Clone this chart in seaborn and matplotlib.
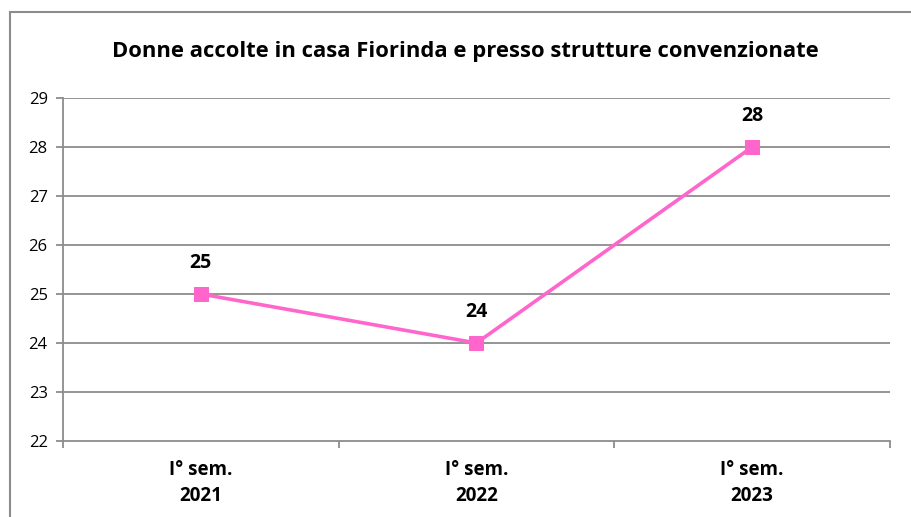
import matplotlib
matplotlib.use("Agg")
import matplotlib.pyplot as plt
from matplotlib.patches import Rectangle
import seaborn as sns
import pandas as pd

categories = ["I° sem.\n2021", "I° sem.\n2022", "I° sem.\n2023"]
values = [25, 24, 28]
y_ticks = [22, 23, 24, 25, 26, 27, 28, 29]
title = "Donne accolte in casa Fiorinda e presso strutture convenzionate"

sns.set_theme(style="white")
plt.rcParams["font.family"] = ["Open Sans", "DejaVu Sans"]

df = pd.DataFrame({"periodo": categories, "donne": values})
df["pos"] = range(len(categories))

fig = plt.figure(figsize=(9.12, 5.17), dpi=100)
ax = fig.add_axes([63 / 912, 1 - 441 / 517, (890 - 63) / 912, (441 - 98) / 517])

grid_col = "#8c8c8c"
for y in y_ticks[1:]:
    ax.axhline(y, color=grid_col, lw=1.3, zorder=0)

pink = "#FF66CC"
sns.lineplot(data=df, x="pos", y="donne", ax=ax, color=pink, lw=2.6,
             marker="s", markersize=10, markeredgecolor=pink, zorder=3)

for x, v in zip(df["pos"], values):
    ax.annotate(str(v), (x, v), xytext=(0, 22.5), textcoords="offset points",
                ha="center", va="center", fontsize=14, fontweight="bold",
                color="black")

ax.set_xlim(-0.5, 2.5)
ax.set_ylim(22, 29)
ax.set_yticks(y_ticks)
ax.set_yticklabels([str(t) for t in y_ticks], fontsize=12, color="black")
ax.set_xticks([0, 1, 2])
ax.set_xticklabels(categories, fontsize=13.5, fontweight="bold", linespacing=1.4,
                   color="black")
ax.set_xticks([-0.5, 0.5, 1.5, 2.5], minor=True)
ax.tick_params(axis="x", which="major", length=0, pad=14)
ax.tick_params(axis="x", which="minor", length=5, width=1.3, color=grid_col, direction="out", bottom=True)
ax.tick_params(axis="y", length=5, width=1.3, color=grid_col, direction="out", left=True, pad=6)
ax.set_xlabel("")
ax.set_ylabel("")

for s in ["top", "right"]:
    ax.spines[s].set_visible(False)
for s in ["left", "bottom"]:
    ax.spines[s].set_color(grid_col)
    ax.spines[s].set_linewidth(1.3)

fig.text(465 / 912, 1 - 51 / 517, title, ha="center", va="center",
         fontsize=15.8, fontweight="bold", color="black")

fig.patches.append(Rectangle((10 / 912, -0.1), 1.1, 1 - 12 / 517 + 0.1,
                             transform=fig.transFigure, fill=False,
                             edgecolor="#8c8c8c", lw=1.5))

fig.savefig("out.png", dpi=100)
